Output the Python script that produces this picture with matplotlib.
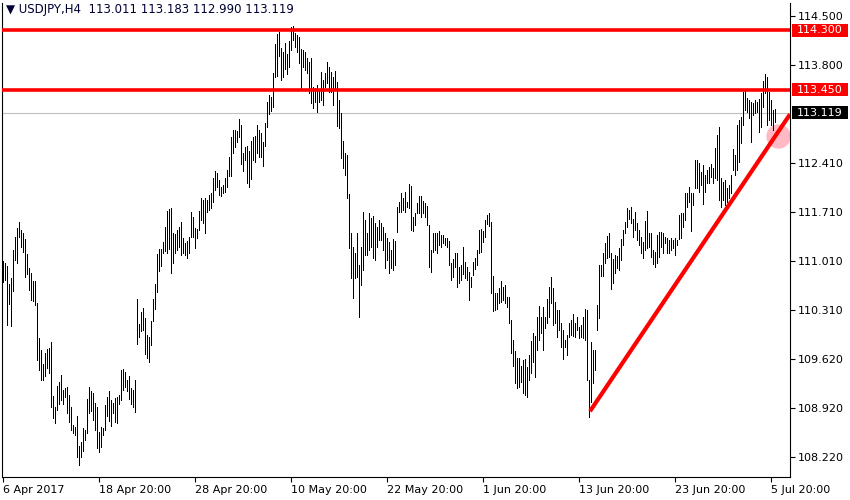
import matplotlib
matplotlib.use('Agg')
import matplotlib.pyplot as plt
from matplotlib.patches import Rectangle
from matplotlib.transforms import blended_transform_factory

# USDJPY H4 бары: максимум / минимум каждого бара
highs = [
    111.01, 110.98, 110.94, 110.68, 110.77, 111.17, 111.35, 111.48, 111.57, 111.45,
    111.41, 111.32, 111.11, 110.91, 110.84, 110.73, 110.73, 110.41, 109.91, 109.74,
    109.54, 109.70, 109.76, 109.77, 109.86, 109.09, 108.93, 109.23, 109.29, 109.39,
    109.17, 109.20, 109.22, 109.10, 108.93, 108.68, 108.65, 108.80, 108.38, 108.43,
    108.63, 108.60, 109.05, 109.22, 109.16, 109.13, 108.99, 108.93, 108.58, 108.65,
    108.63, 108.96, 109.07, 109.16, 109.03, 108.99, 109.06, 109.07, 109.10, 109.46,
    109.47, 109.43, 109.32, 109.37, 109.20, 109.17, 109.32, 110.47, 110.11, 110.29,
    110.34, 110.20, 109.96, 109.93, 110.16, 110.47, 110.68, 111.11, 111.18, 111.18,
    111.28, 111.50, 111.72, 111.75, 111.77, 111.41, 111.40, 111.45, 111.50, 111.57,
    111.34, 111.27, 111.30, 111.35, 111.71, 111.64, 111.48, 111.47, 111.72,
    111.91, 111.88, 111.91, 111.88, 111.95, 111.98, 112.19, 112.29, 112.27, 112.17, 112.07,
    112.09, 112.19, 112.31, 112.49, 112.78, 112.88, 112.88, 112.86, 113.03, 112.95,
    112.55, 112.64, 112.65, 112.57, 112.72, 112.78, 112.79, 112.95, 112.88, 112.84,
    112.71, 112.98, 113.28, 113.38, 113.35, 113.69, 114.10, 114.25, 114.27, 114.05,
    113.98, 114.12, 113.96, 114.15, 114.35, 114.36, 114.26, 114.23, 114.20, 114.03,
    114.02, 113.98, 113.90, 113.85, 113.90, 113.49, 113.48, 113.52, 113.45, 113.70,
    113.59, 113.69, 113.85, 113.78, 113.70, 113.63, 113.72, 113.56, 113.31, 113.12,
    112.72, 112.55, 112.52, 111.97, 111.41, 111.21, 111.13, 111.41, 110.95, 111.21,
    111.71, 111.60, 111.41, 111.70, 111.62, 111.65, 111.55, 111.50, 111.60, 111.55,
    111.50, 111.41, 111.34, 111.28, 111.17, 111.33,
    111.30, 111.78, 111.85, 111.98, 111.91, 111.99, 111.85, 112.11, 112.08, 111.64,
    111.70, 111.84, 111.94, 111.94, 111.87, 111.84, 111.80, 111.52, 111.17, 111.41,
    111.41, 111.41, 111.44, 111.38, 111.38, 111.34, 111.34, 111.30, 110.98, 111.04,
    111.13, 111.13, 110.93, 110.95, 111.21, 111.00, 110.93, 110.86, 110.78, 111.00,
    111.05, 111.17, 111.45, 111.47, 111.44, 111.60, 111.67, 111.70, 111.57, 110.80,
    110.56, 110.56, 110.63, 110.73, 110.64, 110.67, 110.50, 110.50, 110.17, 109.89,
    109.73, 109.63, 109.63, 109.52, 109.60, 109.62, 109.50, 109.67, 109.87, 109.99,
    109.94, 110.21, 110.37, 110.21, 110.36, 110.21, 110.47, 110.64, 110.78, 110.63,
    110.43, 110.31, 110.31, 110.13, 110.03, 109.89, 109.96, 110.13, 110.17, 110.26,
    110.13, 110.21, 110.07, 110.10, 110.21, 110.33,
    110.31, 109.32, 109.86, 109.74, 109.74, 110.38,
    110.95, 110.95, 111.13, 111.27, 111.37, 111.41, 111.13, 111.04, 111.10, 111.08,
    111.20, 111.33, 111.45, 111.57, 111.77, 111.74, 111.78, 111.61, 111.71, 111.55,
    111.45, 111.35, 111.28, 111.58, 111.72, 111.41, 111.41, 111.17, 111.14, 111.38,
    111.43, 111.43, 111.41, 111.35, 111.34, 111.31, 111.34, 111.31, 111.34, 111.31,
    111.67, 111.70, 111.70, 111.98, 111.98, 112.07, 111.98, 111.98, 112.45, 112.45,
    112.41, 112.28, 112.38, 112.24, 112.31, 112.35, 112.39, 112.34, 112.62, 112.81,
    112.92, 112.19, 112.14, 112.17, 112.05, 112.09, 112.24, 112.61, 112.52, 112.95,
    113.02, 113.06, 113.42, 113.45, 113.33, 113.31, 113.28, 113.26, 113.31, 113.28,
    113.32, 113.41, 113.58, 113.68, 113.63, 113.42, 113.31, 113.16, 113.18,
]
lows = [
    110.71, 110.74, 110.10, 110.40, 110.08, 110.58, 111.02, 110.98, 111.35, 111.21,
    111.14, 110.78, 110.83, 110.60, 110.45, 110.44, 110.38, 109.60, 109.46, 109.32,
    109.32, 109.37, 109.49, 109.42, 108.93, 108.77, 108.70, 108.89, 108.97, 109.03,
    108.97, 109.07, 108.85, 108.72, 108.60, 108.56, 108.53, 108.22, 108.11, 108.22,
    108.30, 108.46, 108.56, 108.85, 108.88, 108.75, 108.60, 108.35, 108.29, 108.36,
    108.53, 108.60, 108.80, 108.73, 108.66, 108.85, 108.72, 108.70, 108.97, 109.03,
    109.17, 109.22, 109.16, 109.05, 108.97, 108.93, 108.86, 109.83, 109.93, 110.01,
    110.03, 109.69, 109.63, 109.57, 109.82, 110.16, 110.33, 110.57, 110.87, 110.94,
    111.13, 111.15, 111.13, 111.18, 110.84, 110.98, 111.13, 111.17, 111.21, 111.10,
    111.13, 111.10, 111.05, 111.13, 111.35, 111.35, 111.20, 111.34, 111.45,
    111.60, 111.55, 111.41, 111.71, 111.74, 111.77, 111.85, 112.02, 112.07, 111.95, 111.94,
    111.98, 111.99, 112.07, 112.22, 112.22, 112.55, 112.64, 112.71, 112.78, 112.39,
    112.29, 112.45, 112.12, 112.07, 112.18, 112.45, 112.42, 112.55, 112.49, 112.49,
    112.36, 112.65, 112.92, 113.11, 113.15, 113.21, 113.63, 113.65, 113.93, 113.59,
    113.63, 113.75, 113.68, 113.78, 114.02, 114.16, 114.06, 113.98, 113.83, 113.45,
    113.78, 113.73, 113.69, 113.40, 113.26, 113.19, 113.28, 113.13, 113.28, 113.31,
    113.23, 113.49, 113.55, 113.42, 113.42, 113.23, 113.45, 112.93, 112.91, 112.48,
    112.34, 112.24, 111.91, 111.20, 110.77, 110.48, 110.77, 110.78, 110.21, 110.67,
    110.88, 111.10, 111.10, 111.17, 111.21, 111.05, 111.03, 111.21, 111.31, 111.31,
    111.17, 110.91, 111.03, 110.84, 110.91, 110.88,
    110.95, 111.43, 111.71, 111.71, 111.74, 111.71, 111.78, 111.77, 111.45, 111.44,
    111.52, 111.70, 111.70, 111.64, 111.70, 111.64, 111.52, 110.93, 110.86, 111.14,
    111.17, 111.13, 111.24, 111.21, 111.27, 111.24, 111.21, 110.95, 110.74, 110.78,
    110.93, 110.64, 110.70, 110.74, 110.83, 110.77, 110.74, 110.46, 110.64, 110.81,
    110.90, 110.95, 111.13, 111.14, 111.28, 111.35, 111.54, 111.51, 110.56, 110.30,
    110.31, 110.33, 110.41, 110.43, 110.46, 110.41, 110.36, 110.13, 109.70, 109.52,
    109.27, 109.20, 109.22, 109.29, 109.13, 109.10, 109.07, 109.32, 109.42, 109.57,
    109.36, 109.74, 109.89, 109.99, 109.74, 110.06, 110.13, 110.21, 110.41, 110.10,
    110.13, 109.93, 110.03, 109.79, 109.62, 109.79, 109.67, 109.93, 109.96, 109.94,
    109.93, 110.03, 109.91, 109.93, 109.91, 109.89,
    109.32, 108.79, 109.00, 109.27, 109.46, 110.03,
    110.20, 110.80, 110.80, 110.98, 111.05, 111.07, 110.61, 110.70, 110.84, 110.91,
    110.88, 111.03, 111.24, 111.41, 111.50, 111.61, 111.55, 111.35, 111.45, 111.31,
    111.24, 111.13, 111.05, 111.17, 111.20, 111.21, 111.07, 110.97, 110.93, 110.98,
    111.07, 111.21, 111.13, 111.27, 111.13, 111.13, 111.17, 111.20, 111.10, 111.24,
    111.33, 111.34, 111.50, 111.60, 111.78, 111.85, 111.44, 111.81, 112.05, 112.05,
    111.99, 112.09, 111.82, 111.99, 112.12, 112.12, 112.21, 112.12, 112.19, 112.17,
    111.88, 111.78, 111.88, 111.81, 111.85, 111.91, 111.98, 112.31, 112.24, 112.31,
    112.42, 112.69, 112.95, 113.16, 113.13, 113.05, 112.71, 113.09, 113.12, 113.13,
    112.85, 112.92, 113.21, 113.41, 112.95, 113.02, 112.95, 112.88, 112.99,
]

title = "\u25bc USDJPY,H4  113.011 113.183 112.990 113.119"
y_ticks = [114.50, 113.80, 112.41, 111.71, 111.01, 110.31, 109.62, 108.92, 108.22]
x_tick_bars = [0, 48, 96, 144, 192, 240, 288, 336, 384]
x_tick_labels = ["6 Apr 2017", "18 Apr 20:00", "28 Apr 20:00", "10 May 20:00", "22 May 20:00",
                 "1 Jun 20:00", "13 Jun 20:00", "23 Jun 20:00", "5 Jul 20:00"]
levels = [114.30, 113.45]      # горизонтальные уровни
bid = 113.119                  # текущая цена
trend_bars = [293.35, 393.35]  # трендовая линия
trend_prices = [108.87, 113.10]
mark_bar, mark_price = 387.3, 112.79

fig = plt.figure(figsize=(8.5, 5), dpi=100)
ax = fig.add_axes([2/850, 23/500, 788/850, 474/500])
ax.set_xlim(-0.65, 393.35)
ax.set_ylim(107.933, 114.685)

x = list(range(len(highs)))
ax.vlines(x, lows, highs, color='black', linewidth=0.55, antialiased=False, zorder=3)

ax.axhline(bid, color='#c0c0c0', linewidth=0.8, zorder=1)
for lv in levels:
    ax.axhline(lv, color='#ff0000', linewidth=2.6, zorder=4)
ax.plot(mark_bar, mark_price, 'o', markersize=17.5, color='#ffb8c4', markeredgewidth=0, zorder=2)
ax.plot(trend_bars, trend_prices, color='#ff0000', linewidth=3.0, solid_capstyle='butt', zorder=4)

# шкала цен справа
ax.yaxis.tick_right()
ax.set_yticks(y_ticks)
ax.set_yticklabels(['%.3f' % v for v in y_ticks], fontsize=8)
ax.set_xticks(x_tick_bars)
ax.set_xticklabels(x_tick_labels, fontsize=8, ha='left')
ax.tick_params(axis='both', length=3.5, width=0.8, pad=2, colors='black')
for s in ['left', 'right', 'bottom', 'top']:
    ax.spines[s].set_linewidth(0.8)
ax.spines['top'].set_visible(False)

# подписи уровней
tr = blended_transform_factory(ax.transAxes, ax.transData)
box_h = 0.185
for lv, fc in [(levels[0], '#ff0000'), (levels[1], '#ff0000'), (bid, 'black')]:
    ax.add_patch(Rectangle((1.002, lv - box_h/2), 0.071, box_h, transform=tr,
                           facecolor=fc, edgecolor='none', clip_on=False, zorder=5))
    ax.text(1.0085, lv, '%.3f' % lv, transform=tr, color='white', fontsize=8,
            va='center', ha='left', zorder=6)

fig.text(6/850, 1 - 10/500, title, fontsize=8.5, color='#000033', va='center', ha='left')

fig.savefig('out.png', dpi=100, facecolor='white')
